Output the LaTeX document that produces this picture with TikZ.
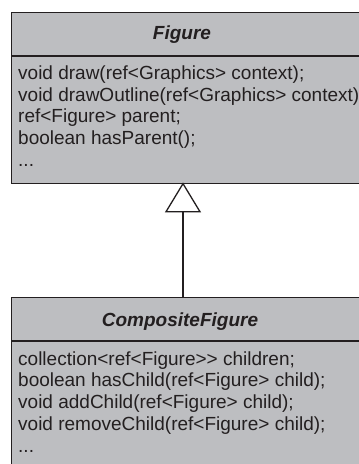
\documentclass[tikz,border=0pt]{standalone}
\usepackage{fontspec}
\setmainfont{Liberation Sans}
\usetikzlibrary{arrows.meta}
\definecolor{ink}{HTML}{231F20}
\definecolor{classfill}{HTML}{BDBEC1}
\tikzset{
  classbox/.style={draw=ink, fill=classfill, line width=1.4pt},
  classname/.style={anchor=base, inner sep=0pt, text=ink,
    font=\fontsize{19}{22}\selectfont\bfseries\itshape},
  member/.style={anchor=base west, inner sep=0pt, text=ink,
    font=\fontsize{19}{22}\selectfont},
  generalization/.style={draw=ink, line width=1.3pt,
    -{Triangle[open, fill=white, length=30pt, width=36pt]}}
}
\begin{document}
\begin{tikzpicture}[x=1pt, y=-1pt]
  \useasboundingbox (0,0) rectangle (359,464);
  \clip (0,0) rectangle (359,464);

  % class Figure
  \node[classbox, anchor=north west, minimum width=356pt, minimum height=171pt,
        inner sep=0pt] (figure) at (11,12) {};
  \draw[ink, line width=1.4pt] (11,56) -- (367,56);
  \node[classname] (figname) at (182,39) {Figure};
  \node[member] (f1) at (18,79) {void draw(ref<Graphics> context);};
  \node[member] (f2) at (18,101) {void drawOutline(ref<Graphics> context);};
  \node[member] (f3) at (18,122.5) {ref<Figure> parent;};
  \node[member] (f4) at (18,144) {boolean hasParent();};
  \node[member] (f5) at (18,166) {...};

  % class CompositeFigure
  \node[classbox, anchor=north west, minimum width=356pt, minimum height=190pt,
        inner sep=0pt] (composite) at (11,297) {};
  \draw[ink, line width=1.4pt] (11,341) -- (367,341);
  \node[classname] (compname) at (180,326) {CompositeFigure};
  \node[member] (c1) at (18,365) {collection<ref<Figure>{}> children;};
  \node[member] (c2) at (18,386.7) {boolean hasChild(ref<Figure> child);};
  \node[member] (c3) at (18,408.4) {void addChild(ref<Figure> child);};
  \node[member] (c4) at (18,430) {void removeChild(ref<Figure> child);};
  \node[member] (c5) at (18,452) {...};

  % inheritance arrow
  \coordinate (axis) at (183,0);
  \draw[generalization] (composite.north -| axis) -- ([yshift=2pt]figure.south -| axis);
\end{tikzpicture}
\end{document}
